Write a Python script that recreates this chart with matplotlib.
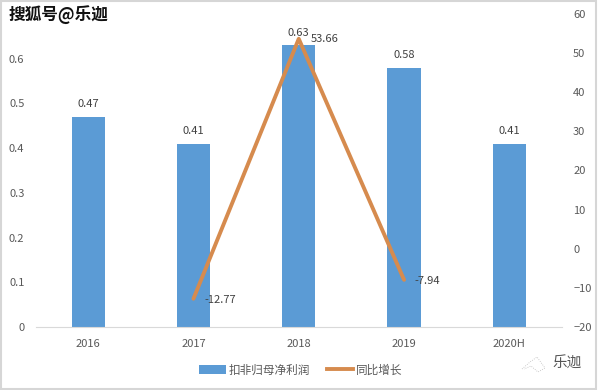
import matplotlib as mpl
mpl.use('Agg')
import matplotlib.pyplot as plt
from matplotlib.lines import Line2D
from matplotlib.patches import Rectangle

plt.rcParams['font.family'] = ['Noto Sans CJK SC', 'DejaVu Sans']

years = ['2016', '2017', '2018', '2019', '2020H']
profit = [0.47, 0.41, 0.63, 0.58, 0.41]
growth = [None, -12.77, 53.66, -7.94, None]
growth_labels = ['', '-12.77', '53.66', '-7.94', '']

BLUE = '#5B9BD5'
ORANGE = '#D68B4E'
GREY = '#595959'

W, H = 598, 390
fig = plt.figure(figsize=(W / 100, H / 100), dpi=100)
ax = fig.add_axes([35.5 / W, 1 - 327 / H, 526.5 / W, 313 / H])
ax2 = ax.twinx()

xs = list(range(len(years)))
bars = ax.bar(xs, profit, 0.315, color=BLUE)
ax.set_xlim(-0.5, 4.5)
ax.set_ylim(0, 0.7)
ax.set_yticks([0, 0.1, 0.2, 0.3, 0.4, 0.5, 0.6])
ax.set_yticklabels(['0', '0.1', '0.2', '0.3', '0.4', '0.5', '0.6'])
ax.set_xticks(xs)
ax.set_xticklabels(years)
ax.tick_params(axis='both', length=0, labelsize=8, labelcolor=GREY)
ax.tick_params(axis='x', pad=8.5)
ax.tick_params(axis='y', pad=8)

gx = [x for x, g in zip(xs, growth) if g is not None]
gy = [g for g in growth if g is not None]
line, = ax2.plot(gx, gy, color=ORANGE, lw=2.8, solid_capstyle='round', solid_joinstyle='round')
ax2.set_ylim(-20, 60)
ax2.set_yticks(range(-20, 61, 10))
ax2.tick_params(axis='y', length=0, labelsize=8, labelcolor=GREY, pad=8)

for spine in ['top', 'left', 'right']:
    ax.spines[spine].set_visible(False)
    ax2.spines[spine].set_visible(False)
ax.spines['bottom'].set_color('#D9D9D9')
ax2.spines['bottom'].set_visible(False)

for x, v in zip(xs, profit):
    ax.annotate(str(v), (x, v), xytext=(0, 5.5), textcoords='offset points',
                ha='center', va='bottom', fontsize=8, color='#404040')
# label offsets differ per point in the source chart
offsets = [None, (8, -1), (8.5, 0), (7.5, -1), None]
for x, g, s, off in zip(xs, growth, growth_labels, offsets):
    if g is not None:
        ax2.annotate(s, (x, g), xytext=off, textcoords='offset points',
                     ha='left', va='center', fontsize=8, color='#404040')

fig.legend([bars, Line2D([], [], color=ORANGE, lw=2.8)], ['扣非归母净利润', '同比增长'],
           loc='center', ncol=2, bbox_to_anchor=(301 / W, 1 - 370 / H), frameon=False,
           fontsize=8.4, labelcolor=GREY, handlelength=2.25, handletextpad=0.25, columnspacing=1.45)

# watermarks
fig.text(9 / W, 1 - 15 / H, '搜狐号@乐迦', fontsize=12, color='#111111', fontweight='bold', va='center')
fig.text(552 / W, 1 - 364 / H, '乐迦', fontsize=10.5, color='#555555', va='center')
bird_x = [522, 530, 537, 545, 538, 531, 524]
bird_y = [369, 362, 357, 368, 372, 366, 369]
fig.add_artist(Line2D([v / W for v in bird_x], [1 - v / H for v in bird_y],
                      color='#BBBBBB', lw=0.6, ls=':'))

# thin frame of the screenshot
fig.add_artist(Rectangle((1 / W, 1 / H), (W - 3) / W, (H - 2) / H, transform=fig.transFigure,
                         fill=False, ec='#D6D6D6', lw=1.5))

fig.savefig('out.png', dpi=100)
plt.close(fig)
